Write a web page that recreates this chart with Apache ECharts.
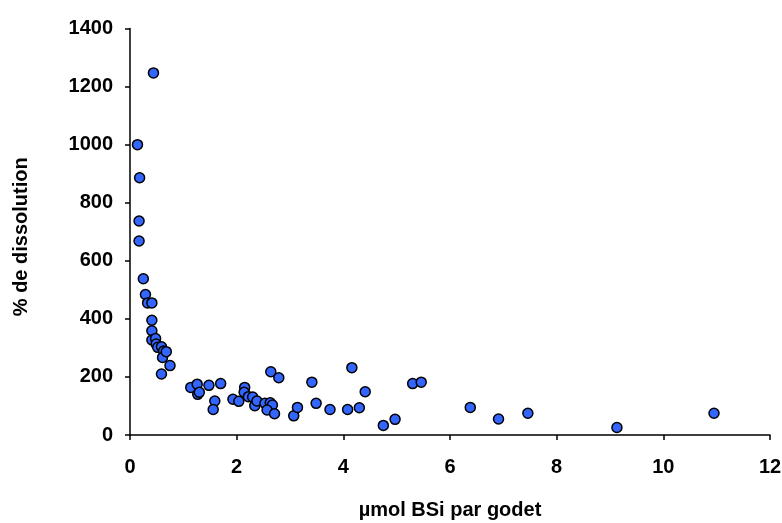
<!DOCTYPE html>
<html><head><meta charset="utf-8">
<script src="https://cdn.jsdelivr.net/npm/echarts@6/dist/echarts.min.js"></script>
<style>html,body{margin:0;padding:0;background:#fff}#c{width:782px;height:523px}</style>
</head><body><div id="c"></div>
<script>
const bsi = [0.44,0.14,0.18,0.17,0.17,0.25,0.29,0.33,0.41,0.41,0.41,0.41,0.48,0.49,0.52,0.59,0.63,0.61,0.68,0.59,0.75,
  1.14,1.26,1.27,1.30,1.48,1.70,1.59,1.56,1.93,2.04,2.15,2.14,2.22,2.30,2.34,2.38,2.53,2.63,2.67,2.57,2.71,2.64,2.79,
  3.07,3.14,3.41,3.49,3.75,4.08,4.16,4.30,4.41,4.75,4.97,5.30,5.46,6.38,6.91,7.46,9.13,10.95];
const dissolution = [1247,1000,886,737,668,538,484,455,455,395,359,327,332,313,302,304,289,267,287,210,239,
  164,175,140,147,171,177,117,88,123,116,164,147,132,131,101,117,109,111,103,86,73,218,197,
  66,95,182,109,88,88,232,94,149,33,54,177,182,95,55,75,26,75];
const xTicks = [0,2,4,6,8,10,12];
const yTicks = [0,200,400,600,800,1000,1200,1400];
const points = bsi.map((x,i)=>[x,dissolution[i]]);
const font = 'Liberation Sans, Arial, sans-serif';
const fs = 20;
const chart = echarts.init(document.getElementById('c'));
chart.setOption({
  animation:false,
  grid:{left:130,right:12,top:28.5,bottom:88,containLabel:false,outerBoundsMode:'none'},
  xAxis:{type:'value',min:xTicks[0],max:xTicks[xTicks.length-1],interval:2,
    name:'µmol BSi par godet',nameLocation:'middle',nameGap:65,
    nameTextStyle:{fontFamily:font,fontWeight:'bold',fontSize:fs,color:'#000'},
    axisLine:{show:true,lineStyle:{color:'#000',width:1.5}},
    axisTick:{show:true,length:5,lineStyle:{color:'#000',width:1.5}},
    axisLabel:{fontFamily:font,fontWeight:'bold',fontSize:fs,color:'#000',margin:22,
      formatter:v=>String(v)},
    splitLine:{show:false}},
  yAxis:{type:'value',min:yTicks[0],max:yTicks[yTicks.length-1],interval:200,
    name:'% de dissolution',nameLocation:'middle',nameGap:99,nameRotate:90,
    nameTextStyle:{fontFamily:font,fontWeight:'bold',fontSize:fs,color:'#000',padding:[0,10,0,0]},
    axisLine:{show:true,lineStyle:{color:'#000',width:1.5}},
    axisTick:{show:true,length:5,lineStyle:{color:'#000',width:1.5}},
    axisLabel:{fontFamily:font,fontWeight:'bold',fontSize:fs,color:'#000',margin:17,
      formatter:v=>String(v)},
    splitLine:{show:false}},
  series:[{type:'scatter',data:points,symbol:'circle',symbolSize:10,
    itemStyle:{color:'#3366ff',borderColor:'#000',borderWidth:1.5,opacity:1}}]
});
</script></body></html>
